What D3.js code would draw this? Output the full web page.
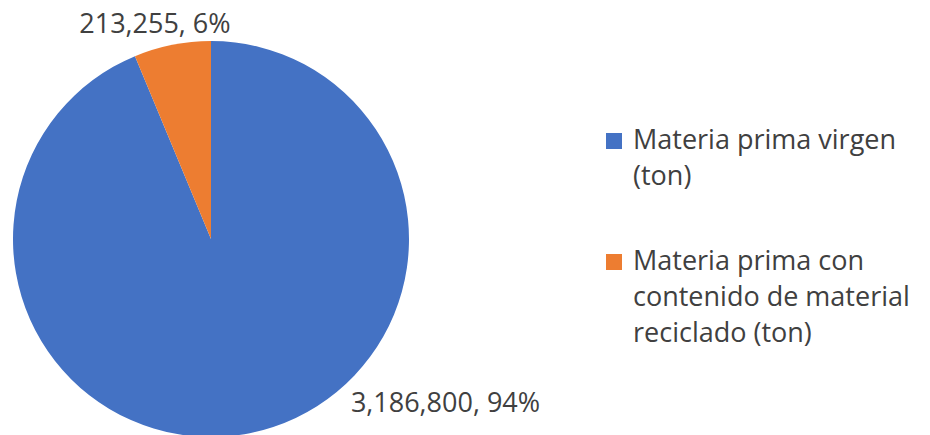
<!DOCTYPE html>
<html lang="es">
<head>
    <meta charset="UTF-8">
    <title>Materia prima</title>
    <script src="https://d3js.org/d3.v7.min.js"></script>
    <style>
        body {
            margin: 0;
            background: #fff;
            font-family: "Open Sans", Arial, sans-serif;
        }
        text {
            fill: #404040;
        }
    </style>
</head>
<body>
<div id="chart"></div>

<script>
    // data
    const categories = ["Materia prima virgen (ton)", "Materia prima con contenido de material reciclado (ton)"];
    const values = [3186800, 213255];
    const colors = ["#4472C4", "#ED7D31"];
    // legend text broken into lines like the original
    const legendLines = [
        ["Materia prima virgen", "(ton)"],
        ["Materia prima con", "contenido de material", "reciclado (ton)"]
    ];

    const width = 930, height = 435;
    const cx = 211, cy = 239, radius = 198;

    const svg = d3.select("#chart")
        .append("svg")
        .attr("width", width)
        .attr("height", height);

    const total = d3.sum(values);
    const slices = d3.pie().sort(null)(values);

    const arc = d3.arc().innerRadius(0).outerRadius(radius);

    const g = svg.append("g")
        .attr("transform", `translate(${cx},${cy})`);

    g.selectAll("path")
        .data(slices)
        .enter()
        .append("path")
        .attr("d", arc)
        .attr("fill", (d, i) => colors[i]);

    // data labels, "best fit" outside like excel does it
    const fmt = d3.format(",");
    const labelAngle = [Math.PI * 0.694, null];   // blue label sits low right
    const labelRadius = [286, 220];
    const labelNudge = [[0, 0], [-13, 0]];

    g.selectAll(".dlabel")
        .data(slices)
        .enter()
        .append("text")
        .attr("class", "dlabel")
        .attr("text-anchor", "middle")
        .attr("dy", "0.35em")
        .attr("x", (d, i) => {
            const a = labelAngle[i] !== null ? labelAngle[i] : (d.startAngle + d.endAngle) / 2;
            return Math.sin(a) * labelRadius[i] + labelNudge[i][0];
        })
        .attr("y", (d, i) => {
            const a = labelAngle[i] !== null ? labelAngle[i] : (d.startAngle + d.endAngle) / 2;
            return -Math.cos(a) * labelRadius[i] + labelNudge[i][1];
        })
        .style("font-size", "27px")
        .text(d => `${fmt(d.value)}, ${Math.round(d.value / total * 100)}%`);

    // legend
    const legend = svg.selectAll(".legend-item")
        .data(categories)
        .enter()
        .append("g")
        .attr("class", "legend-item")
        .attr("transform", (d, i) => `translate(606, ${i === 0 ? 133 : 254})`);

    legend.append("rect")
        .attr("width", 16)
        .attr("height", 16)
        .attr("fill", (d, i) => colors[i]);

    legend.append("text")
        .attr("x", 27)
        .attr("y", 16)
        .style("font-size", "27px")
        .selectAll("tspan")
        .data((d, i) => legendLines[i])
        .enter()
        .append("tspan")
        .attr("x", 27)
        .attr("dy", (d, j) => j === 0 ? 0 : 36)
        .text(d => d);
</script>
</body>
</html>
